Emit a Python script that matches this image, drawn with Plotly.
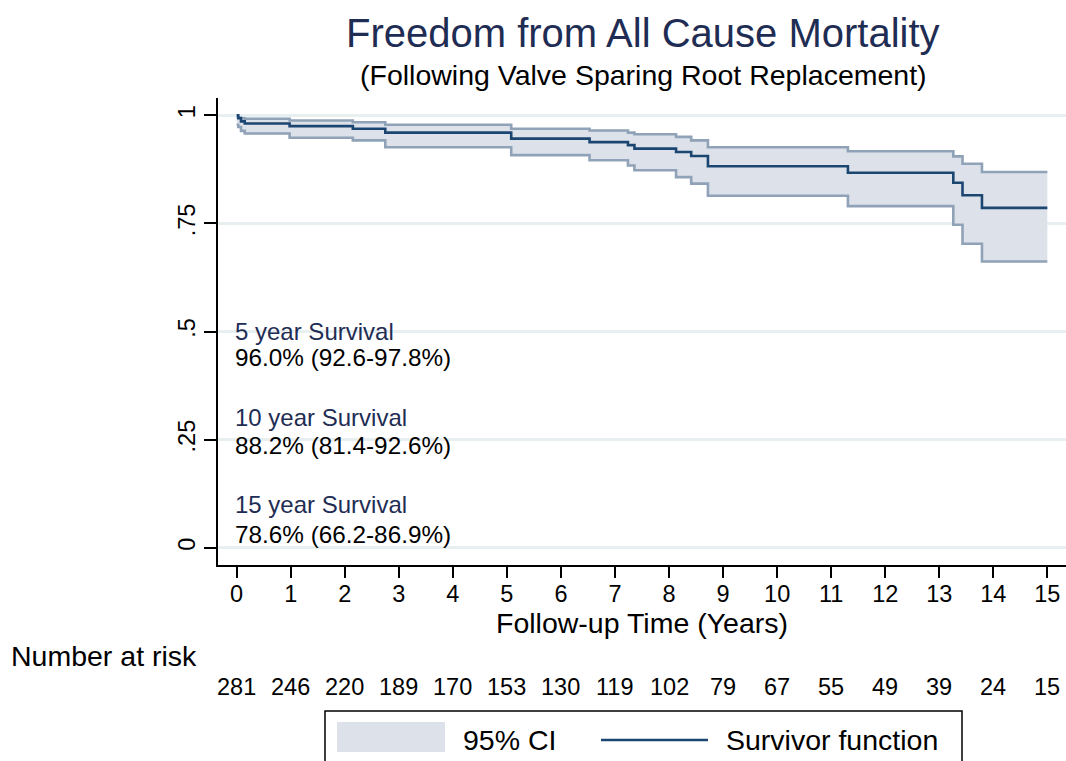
import plotly.graph_objects as go

# ---- data ----
time_years = [0, 0.03, 0.08, 0.15, 0.98, 2.15, 2.75, 5.08, 6.53, 7.24, 7.36,
              8.13, 8.41, 8.72, 11.31, 13.26, 13.43, 13.79, 15.0]
survivor = [1.000, 0.993, 0.986, 0.981, 0.975, 0.969, 0.960, 0.946, 0.938, 0.931,
            0.923, 0.915, 0.906, 0.882, 0.867, 0.844, 0.815, 0.786, 0.786]
ci_upper = [0.996, 0.995, 0.993, 0.992, 0.988, 0.984, 0.978, 0.969, 0.965, 0.960,
            0.956, 0.950, 0.942, 0.926, 0.917, 0.905, 0.888, 0.869, 0.869]
ci_lower = [0.978, 0.973, 0.964, 0.958, 0.948, 0.942, 0.926, 0.908, 0.896, 0.884,
            0.873, 0.857, 0.842, 0.814, 0.790, 0.747, 0.703, 0.662, 0.662]

risk_years = list(range(0, 16))
number_at_risk = [281, 246, 220, 189, 170, 153, 130, 119, 102, 79, 67, 55, 49, 39, 24, 15]

y_tick_vals = [0, 0.25, 0.5, 0.75, 1]
y_tick_text = ["0", ".25", ".5", ".75", "1"]

survival_labels = ["5 year Survival", "10 year Survival", "15 year Survival"]
survival_values = ["96.0% (92.6-97.8%)", "88.2% (81.4-92.6%)", "78.6% (66.2-86.9%)"]

# ---- styling ----
FONT = "Liberation Sans, Arial, Helvetica, sans-serif"
NAVY = "#1f2d54"
SURV_COLOR = "#1c4672"
CI_LINE = "#8fa2b7"
CI_FILL = "#dde2ea"
GRID = "#e8eff1"
BIG = 28.5
SMALL = 23.5

W, H = 1066, 761
L, R, T, B = 218, 0, 98, 196
PW = W - L - R
PH = H - T - B


def px_to_paper_x(px):
    return (px - L) / PW


def px_to_paper_y(py):
    return (H - B - py) / PH


fig = go.Figure()

fig.add_trace(go.Scatter(
    x=time_years, y=ci_lower, mode="lines", line=dict(color=CI_LINE, width=2.6, shape="hv"),
    showlegend=False, hoverinfo="skip", name="95% CI lower"))
fig.add_trace(go.Scatter(
    x=time_years, y=ci_upper, mode="lines", line=dict(color=CI_LINE, width=2.6, shape="hv"),
    fill="tonexty", fillcolor=CI_FILL, showlegend=False, name="95% CI"))
fig.add_trace(go.Scatter(
    x=time_years, y=survivor, mode="lines", line=dict(color=SURV_COLOR, width=2.6, shape="hv"),
    showlegend=False, name="Survivor function"))

annotations = []
# Title & subtitle
annotations.append(dict(text="Freedom from All Cause Mortality", xref="paper", yref="paper",
                        x=px_to_paper_x(643), y=px_to_paper_y(33), showarrow=False,
                        xanchor="center", yanchor="middle",
                        font=dict(family=FONT, size=40, color=NAVY)))
annotations.append(dict(text="(Following Valve Sparing Root Replacement)", xref="paper", yref="paper",
                        x=px_to_paper_x(643), y=px_to_paper_y(75), showarrow=False,
                        xanchor="center", yanchor="middle",
                        font=dict(family=FONT, size=BIG, color="black")))

# Survival text blocks inside the plot
label_y = [0.5, 0.3, 0.1]
value_y = [0.44, 0.237, 0.03]
for lab, val, ly, vy in zip(survival_labels, survival_values, label_y, value_y):
    annotations.append(dict(text=lab, xref="x", yref="y", x=-0.07, y=ly, showarrow=False,
                            xanchor="left", yanchor="middle",
                            font=dict(family=FONT, size=24, color=NAVY)))
    annotations.append(dict(text=val, xref="x", yref="y", x=-0.07, y=vy, showarrow=False,
                            xanchor="left", yanchor="middle",
                            font=dict(family=FONT, size=24.3, color="black")))

# Number at risk
annotations.append(dict(text="Number at risk", xref="paper", yref="paper",
                        x=px_to_paper_x(9), y=px_to_paper_y(656), showarrow=False,
                        xanchor="left", yanchor="middle",
                        font=dict(family=FONT, size=BIG, color="black")))
for t, n in zip(risk_years, number_at_risk):
    annotations.append(dict(text=str(n), xref="x", yref="paper", x=t, y=px_to_paper_y(687),
                            showarrow=False, xanchor="center", yanchor="middle",
                            font=dict(family=FONT, size=SMALL, color="black")))

# Legend (drawn in layout)
shapes = []
shapes.append(dict(type="rect", xref="paper", yref="paper",
                   x0=px_to_paper_x(325), x1=px_to_paper_x(962),
                   y0=px_to_paper_y(711), y1=px_to_paper_y(790),
                   line=dict(color="black", width=1.5), fillcolor="rgba(0,0,0,0)"))
shapes.append(dict(type="rect", xref="paper", yref="paper",
                   x0=px_to_paper_x(337), x1=px_to_paper_x(445),
                   y0=px_to_paper_y(722), y1=px_to_paper_y(752),
                   line=dict(width=0), fillcolor=CI_FILL))
shapes.append(dict(type="line", xref="paper", yref="paper",
                   x0=px_to_paper_x(601), x1=px_to_paper_x(708),
                   y0=px_to_paper_y(740), y1=px_to_paper_y(740),
                   line=dict(color=SURV_COLOR, width=2.5)))
annotations.append(dict(text="95% CI", xref="paper", yref="paper",
                        x=px_to_paper_x(461), y=px_to_paper_y(740), showarrow=False,
                        xanchor="left", yanchor="middle",
                        font=dict(family=FONT, size=BIG, color="black")))
annotations.append(dict(text="Survivor function", xref="paper", yref="paper",
                        x=px_to_paper_x(724), y=px_to_paper_y(740), showarrow=False,
                        xanchor="left", yanchor="middle",
                        font=dict(family=FONT, size=BIG, color="black")))

fig.update_layout(
    width=W, height=H,
    margin=dict(l=L, r=R, t=T, b=B, pad=0),
    paper_bgcolor="white", plot_bgcolor="white",
    font=dict(family=FONT, color="black"),
    showlegend=False,
    annotations=annotations,
    shapes=shapes,
    xaxis=dict(
        range=[-0.345, 15.345], tickmode="array", tickvals=risk_years,
        ticktext=[str(v) for v in risk_years],
        showgrid=False, zeroline=False, showline=True, linecolor="black", linewidth=1.5,
        ticks="outside", ticklen=11, tickwidth=1.5, tickcolor="black",
        ticklabelstandoff=-4,
        tickfont=dict(family=FONT, size=SMALL, color="black"),
        title=dict(text="Follow-up Time (Years)", font=dict(family=FONT, size=BIG, color="black"),
                   standoff=1),
    ),
    yaxis=dict(
        range=[-0.04, 1.04], tickmode="array", tickvals=y_tick_vals, ticktext=y_tick_text,
        tickangle=-90, showgrid=True, gridcolor=GRID, gridwidth=2.5,
        zeroline=False, showline=True, linecolor="black", linewidth=1.5,
        ticks="outside", ticklen=12, tickwidth=1.5, tickcolor="black",
        tickfont=dict(family=FONT, size=SMALL, color="black"),
    ),
)

fig.write_html(
    "out.html",
    config={"displayModeBar": False},
    post_script="document.body.style.margin='0';document.body.style.overflow='hidden';",
)
